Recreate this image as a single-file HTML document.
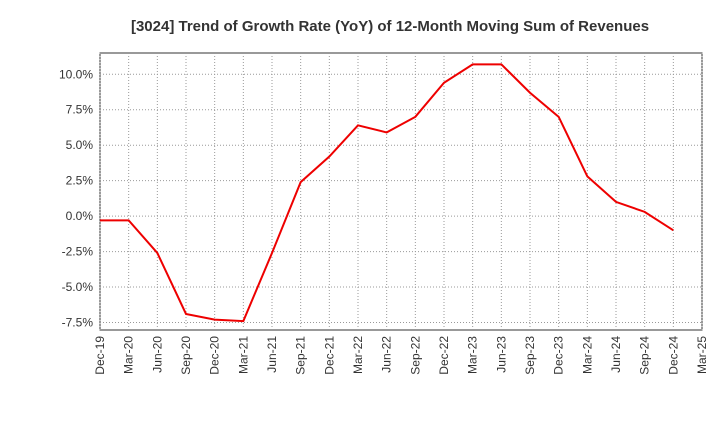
<!DOCTYPE html>
<html><head><meta charset="utf-8"><style>
body{margin:0;background:#fff;font-family:"Liberation Sans",sans-serif}
</style></head><body>
<svg id="c" width="720" height="440" xmlns="http://www.w3.org/2000/svg">
<text x="390" y="31" text-anchor="middle" font-size="15" font-weight="bold" fill="#333">[3024]  Trend of Growth Rate (YoY) of 12-Month Moving Sum of Revenues</text>
<g id="grid"></g><g id="axes"></g><g id="series"></g>
</svg>
<script>
const categories=["Dec-19","Mar-20","Jun-20","Sep-20","Dec-20","Mar-21","Jun-21","Sep-21","Dec-21","Mar-22","Jun-22","Sep-22","Dec-22","Mar-23","Jun-23","Sep-23","Dec-23","Mar-24","Jun-24","Sep-24","Dec-24","Mar-25"];
const values=[-0.3,-0.3,-2.6,-6.9,-7.3,-7.4,-2.6,2.4,4.2,6.4,5.9,7.0,9.4,10.7,10.7,8.7,7.0,2.8,1.0,0.3,-1.0];
const yTicks=[10,7.5,5,2.5,0,-2.5,-5,-7.5];
const yTickLabels=["10.0%","7.5%","5.0%","2.5%","0.0%","-2.5%","-5.0%","-7.5%"];
const NS="http://www.w3.org/2000/svg";
const L=100,R=702,T=53,B=330,yMax=11.5,yMin=-8.03;
const xs=i=>L+(R-L)*i/(categories.length-1);
const ys=v=>T+(yMax-v)/(yMax-yMin)*(B-T);
function mk(tag,attrs,parent){const e=document.createElementNS(NS,tag);for(const k in attrs)e.setAttribute(k,attrs[k]);document.getElementById(parent).appendChild(e);return e;}
const bg=mk('rect',{x:L,y:T,width:R-L,height:B-T,fill:'#fff',stroke:'#333','stroke-width':1},'grid');


categories.forEach((c,i)=>{
  const x=xs(i);
  const g=mk('line',{x1:x,x2:x,y1:T,y2:B,stroke:'#999','stroke-dasharray':'1,2','stroke-width':1},'grid');
  
  
  const t=mk('text',{x:x+4,y:B+6,'text-anchor':'end','font-size':12,fill:'#333',transform:`rotate(-90 ${x+4} ${B+6})`},'axes');
  t.textContent=c;
  
  
});
yTicks.forEach((v,i)=>{
  const y=ys(v);
  const g=mk('line',{x1:L,x2:R,y1:y,y2:y,stroke:'#999','stroke-dasharray':'1,2','stroke-width':1},'grid');
  
  
  const t=mk('text',{x:L-7,y:y+4,'text-anchor':'end','font-size':12,fill:'#333'},'axes');
  t.textContent=yTickLabels[i];
  
  
});
const p=mk('polyline',{points:values.map((v,i)=>xs(i)+','+ys(v)).join(' '),fill:'none',stroke:'#e00','stroke-width':2},'series');


</script>
</body></html>
